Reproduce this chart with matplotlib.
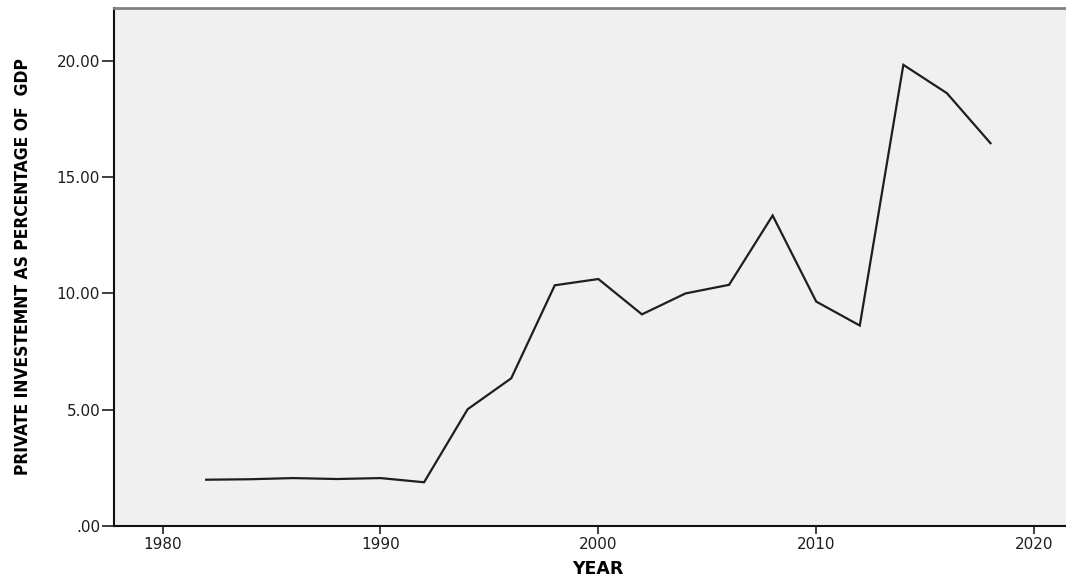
import matplotlib
matplotlib.use("Agg")
import matplotlib.pyplot as plt
from matplotlib import font_manager

# Private investment as % of GDP (every second year)
years = [1982, 1984, 1986, 1988, 1990, 1992, 1994, 1996, 1998, 2000,
         2002, 2004, 2006, 2008, 2010, 2012, 2014, 2016, 2018]
invest_pct = [1.99, 2.01, 2.06, 2.02, 2.06, 1.88, 5.02, 6.35, 10.35, 10.62,
              9.10, 10.00, 10.37, 13.35, 9.65, 8.62, 19.83, 18.61, 16.46]

x_ticks = [1980, 1990, 2000, 2010, 2020]
y_ticks = [0, 5, 10, 15, 20]
y_tick_labels = [".00", "5.00", "10.00", "15.00", "20.00"]

# condensed face for the y label, if the system has one
cond = [f for f in font_manager.fontManager.ttflist
        if "Condensed" in f.fname and "Bold" in f.fname and "Oblique" not in f.fname]
ylab_font = cond[0].fname if cond else None

fig = plt.figure(figsize=(10.66, 5.77), dpi=100)
ax = fig.add_axes([0.107, 0.0884, 0.908, 0.898])
ax.set_facecolor("#f0f0f0")

ax.plot(years, invest_pct, color="#1e1e1e", linewidth=1.6, solid_joinstyle="miter")

ax.set_xlim(1977.77, 2022.2)
ax.set_ylim(0, 22.28)
ax.set_xticks(x_ticks)
ax.set_yticks(y_ticks)
ax.set_yticklabels(y_tick_labels)

ax.tick_params(axis="x", length=6, width=1.2, labelsize=11, pad=2, colors="#1e1e1e")
ax.tick_params(axis="y", length=9, width=1.2, labelsize=11, pad=1, colors="#1e1e1e")

for side in ("left", "bottom"):
    ax.spines[side].set_color("#111111")
    ax.spines[side].set_linewidth(1.5)
ax.spines["top"].set_color("#808080")
ax.spines["top"].set_linewidth(2.0)
ax.spines["right"].set_visible(False)

ax.set_xlabel("YEAR", fontsize=12.5, fontweight="bold", family="DejaVu Sans")
ax.xaxis.set_label_coords((598 - 114) / 968, -0.066)

ylabel = "PRIVATE INVESTEMNT AS PERCENTAGE OF  GDP"
if ylab_font:
    fp = font_manager.FontProperties(fname=ylab_font, size=12.5)
    ax.set_ylabel(ylabel, fontproperties=fp)
else:
    ax.set_ylabel(ylabel, fontsize=11.2, fontweight="bold")
ax.yaxis.set_label_coords(-0.094, 0.5)
ax.yaxis.label.set_va("center")

fig.savefig("out.png", dpi=100)
